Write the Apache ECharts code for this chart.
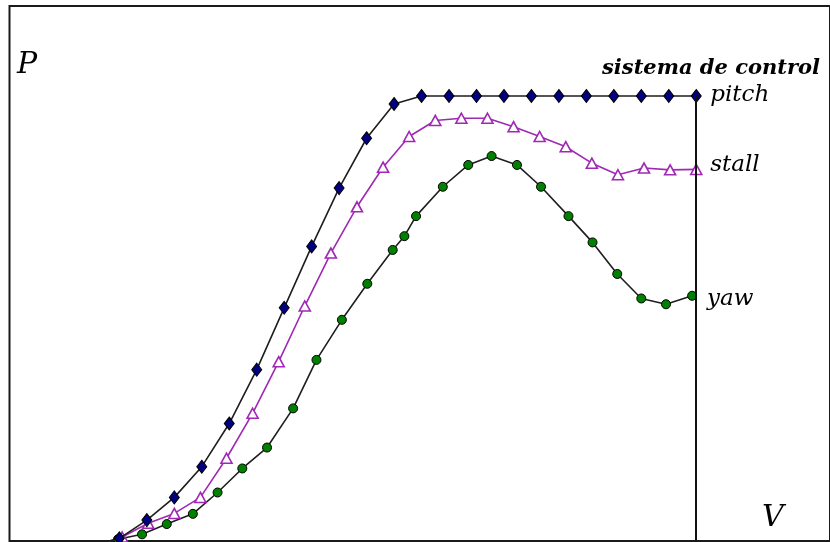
<!DOCTYPE html>
<html>
<head>
<meta charset="utf-8">
<script src="https://cdn.jsdelivr.net/npm/echarts@6.0.0/dist/echarts.min.js"></script>
<style>
html,body{margin:0;padding:0;background:#fff;}
#chart{width:830px;height:542px;}
</style>
</head>
<body>
<div id="chart"></div>
<script>
// V (arbitrary units, 100 = end of curves) and P (100 = pitch plateau)
var pitchV = [12, 16, 20, 24, 28, 32, 36, 40, 44, 48, 52, 56, 60, 64, 68, 72, 76, 80, 84, 88, 92, 96, 100];
var pitchP = [-1, 0.6, 4.7, 9.8, 16.7, 26.4, 38.5, 52.4, 66.2, 79.3, 90.5, 98.2, 100, 100, 100, 100, 100, 100, 100, 100, 100, 100, 100];

var stallV = [16.4, 20.2, 24.0, 27.8, 31.6, 35.4, 39.2, 43.0, 46.8, 50.6, 54.4, 58.2, 62.0, 65.8, 69.6, 73.4, 77.2, 81.0, 84.8, 88.6, 92.4, 96.2, 100.0];
var stallP = [0.9, 4.0, 6.2, 9.8, 18.6, 28.7, 40.3, 52.8, 64.7, 75.1, 84.0, 90.9, 94.5, 95.0, 95.0, 93.1, 90.9, 88.6, 84.9, 82.3, 83.8, 83.4, 83.5];

var yawV = [12.2, 15.8, 19.3, 22.9, 26.7, 30.3, 33.9, 37.5, 41.3, 44.7, 48.4, 52.1, 55.8, 57.5, 59.2, 63.1, 66.8, 70.2, 73.9, 77.4, 81.4, 84.9, 88.5, 92.0, 95.6, 99.4];
var yawP = [-0.8, 0.4, 1.5, 3.8, 6.1, 10.9, 16.3, 21.0, 29.8, 40.7, 49.7, 57.8, 65.4, 68.5, 73.0, 79.6, 84.5, 86.5, 84.5, 79.6, 73.0, 67.1, 60.0, 54.5, 53.2, 55.1];

var seriesNames = ['pitch', 'stall', 'yaw'];
var titleText = 'sistema de control';
var yAxisName = 'P';
var xAxisName = 'V';

function pairs(vs, ps, hideFirst) {
  return vs.map(function (v, i) {
    var item = { value: [v, ps[i]] };
    if (hideFirst && i === 0) item.symbol = 'none';
    return item;
  });
}

var serifItalic = '"DejaVu Serif", "Liberation Serif", serif';
var labelCommon = {
  show: true,
  distance: 14,
  color: '#000',
  fontFamily: serifItalic,
  fontStyle: 'italic',
  fontSize: 23
};

var chart = echarts.init(document.getElementById('chart'), null, { renderer: 'canvas' });
chart.setOption({
  animation: false,
  backgroundColor: '#fff',
  grid: {
    left: 9.5, top: 6, width: 822, height: 535,
    show: true, borderColor: '#1a1a1a', borderWidth: 2, backgroundColor: 'transparent'
  },
  xAxis: {
    type: 'value', min: 0, max: 119.48,
    axisLine: { show: false }, axisTick: { show: false },
    axisLabel: { show: false }, splitLine: { show: false }
  },
  yAxis: {
    type: 'value', min: 0, max: 120.22,
    axisLine: { show: false }, axisTick: { show: false },
    axisLabel: { show: false }, splitLine: { show: false }
  },
  series: [
    {
      name: seriesNames[0], type: 'line', clip: true,
      data: pairs(pitchV, pitchP, true),
      symbol: 'diamond', symbolSize: [10, 13],
      lineStyle: { color: '#1e1e1e', width: 1.6 },
      itemStyle: { color: '#000080', borderColor: '#000', borderWidth: 1 },
      endLabel: Object.assign({}, labelCommon, { formatter: seriesNames[0], offset: [0, -1] }),
      markLine: {
        silent: true, symbol: 'none', label: { show: false },
        lineStyle: { color: '#111', width: 2, type: 'solid' },
        data: [[{ coord: [pitchV[pitchV.length - 1], pitchP[pitchP.length - 1]] },
                { coord: [pitchV[pitchV.length - 1], 0] }]]
      },
      z: 3
    },
    {
      name: seriesNames[1], type: 'line', clip: true,
      data: pairs(stallV, stallP, false),
      symbol: 'triangle', symbolSize: [11, 10],
      lineStyle: { color: '#a028b4', width: 1.6 },
      itemStyle: { color: '#ffffff', borderColor: '#a028b4', borderWidth: 1.6 },
      endLabel: Object.assign({}, labelCommon, { formatter: seriesNames[1], offset: [0, -4] }),
      z: 2
    },
    {
      name: seriesNames[2], type: 'line', clip: true,
      data: pairs(yawV, yawP, true),
      symbol: 'circle', symbolSize: 9,
      lineStyle: { color: '#1e1e1e', width: 1.6 },
      itemStyle: { color: '#008000', borderColor: '#000', borderWidth: 1 },
      endLabel: Object.assign({}, labelCommon, { formatter: seriesNames[2], offset: [1, 3] }),
      z: 2
    }
  ],
  graphic: [
    {
      type: 'text', left: 17, top: 50,
      style: { text: yAxisName, font: 'italic 30px ' + serifItalic, fill: '#000' }
    },
    {
      type: 'text', left: 762, top: 503,
      style: { text: xAxisName, font: 'italic 30px ' + serifItalic, fill: '#000' }
    },
    {
      type: 'text', right: 10, top: 58,
      style: { text: titleText, font: 'italic bold 21px ' + serifItalic, fill: '#000' }
    }
  ]
});
</script>
</body>
</html>
